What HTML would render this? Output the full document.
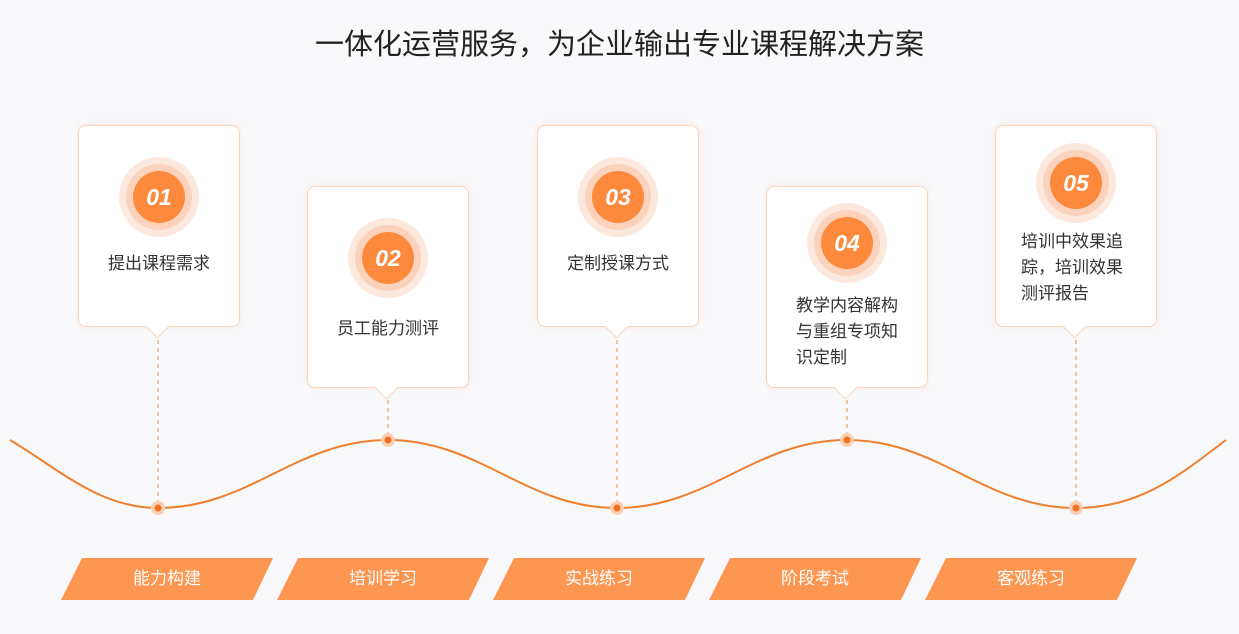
<!DOCTYPE html>
<html><head><meta charset="utf-8"><style>
body{margin:0;width:1239px;height:634px;background:#f9f9fc;font-family:"Liberation Sans","Noto Sans CJK SC",sans-serif;position:relative;overflow:hidden}
.t{position:absolute;left:0;width:1239px;top:21px;text-align:center;font-size:29px;color:#222}
.card{position:absolute;width:160px;height:200px;background:#fff;border:1px solid #f8d5bd;border-radius:8px;box-shadow:0 0 6px rgba(250,180,130,.25)}
.card .txt{position:absolute;left:0;right:0;text-align:center;font-size:17px;color:#333;line-height:26px}
.tail{position:absolute;left:70px;bottom:-9px;width:16px;height:16px;background:#fff;border-right:1px solid #f8d5bd;border-bottom:1px solid #f8d5bd;transform:rotate(45deg)}
.c{position:absolute;width:80px;height:80px;border-radius:50%;background:#fde8dd;left:40px}
.c:before{content:"";position:absolute;left:7px;top:7px;width:66px;height:66px;border-radius:50%;background:#fbd3bd}
.c b{position:absolute;left:14px;top:14px;width:52px;height:52px;border-radius:50%;background:#fd8a3c;color:#fff;font-style:italic;font-size:23px;line-height:52px;text-align:center}
.bn{position:absolute;top:558px;height:42px;width:212px;color:#fff;font-size:17px;line-height:42px;text-align:center}
.bn svg{position:absolute;left:0;top:0}
.bn span{position:relative}
</style></head><body>
<div class="t">一体化运营服务，为企业输出专业课程解决方案</div>
<svg width="1239" height="634" style="position:absolute;left:0;top:0">
<g stroke="#f08a4b" stroke-dasharray="4,4" stroke-width="1">
<line x1="158" y1="340" x2="158" y2="505"/><line x1="388" y1="400" x2="388" y2="437"/><line x1="617" y1="340" x2="617" y2="505"/><line x1="847" y1="400" x2="847" y2="437"/><line x1="1076" y1="340" x2="1076" y2="505"/>
</g>
<path d="M10,440 C60,470 100,508 158,508 C250,508 296,440 388,440 C480,440 525,508 617,508 C709,508 755,440 847,440 C939,440 984,508 1076,508 C1140,508 1180,475 1226,440" fill="none" stroke="#f07f2d" stroke-width="2"/>
<g fill="#fbd0b5"><circle cx="158" cy="508" r="7"/><circle cx="388" cy="440" r="7"/><circle cx="617" cy="508" r="7"/><circle cx="847" cy="440" r="7"/><circle cx="1076" cy="508" r="7"/></g>
<g fill="#f5701e"><circle cx="158" cy="508" r="3.5"/><circle cx="388" cy="440" r="3.5"/><circle cx="617" cy="508" r="3.5"/><circle cx="847" cy="440" r="3.5"/><circle cx="1076" cy="508" r="3.5"/></g>
</svg>
<div class="card" style="left:78px;top:125px"><div class="tail"></div><div class="c" style="top:31px"><b>01</b></div><div class="txt" style="top:125px">提出课程需求</div></div>
<div class="card" style="left:307px;top:186px"><div class="tail"></div><div class="c" style="top:31px"><b>02</b></div><div class="txt" style="top:129px">员工能力测评</div></div>
<div class="card" style="left:537px;top:125px"><div class="tail"></div><div class="c" style="top:31px"><b>03</b></div><div class="txt" style="top:125px">定制授课方式</div></div>
<div class="card" style="left:766px;top:186px"><div class="tail"></div><div class="c" style="top:16px"><b>04</b></div><div class="txt" style="top:106px;left:29px;text-align:left">教学内容解构<br>与重组专项知<br>识定制</div></div>
<div class="card" style="left:995px;top:125px"><div class="tail"></div><div class="c" style="top:17px"><b>05</b></div><div class="txt" style="top:103px;left:25px;text-align:left">培训中效果追<br>踪，培训效果<br>测评报告</div></div>
<div class="bn" style="left:61px"><svg width="212" height="42"><polygon points="21,0 212,0 192,42 0,42" fill="#fd9650"/></svg><span>能力构建</span></div>
<div class="bn" style="left:277px"><svg width="212" height="42"><polygon points="21,0 212,0 192,42 0,42" fill="#fd9650"/></svg><span>培训学习</span></div>
<div class="bn" style="left:493px"><svg width="212" height="42"><polygon points="21,0 212,0 192,42 0,42" fill="#fd9650"/></svg><span>实战练习</span></div>
<div class="bn" style="left:709px"><svg width="212" height="42"><polygon points="21,0 212,0 192,42 0,42" fill="#fd9650"/></svg><span>阶段考试</span></div>
<div class="bn" style="left:925px"><svg width="212" height="42"><polygon points="21,0 212,0 192,42 0,42" fill="#fd9650"/></svg><span>客观练习</span></div>
</body></html>
